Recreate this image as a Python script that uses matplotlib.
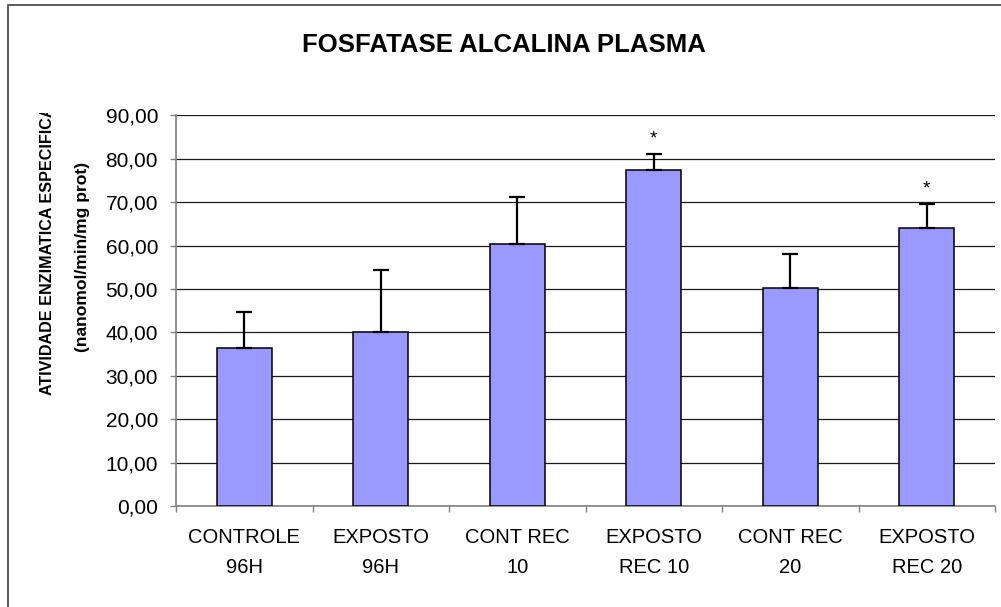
import matplotlib
matplotlib.use("Agg")
import matplotlib.pyplot as plt
from matplotlib.patches import Rectangle
from matplotlib.transforms import Bbox, TransformedBbox

plt.rcParams['font.family'] = ['Liberation Sans', 'DejaVu Sans']

# data
categories = ["CONTROLE\n96H", "EXPOSTO\n96H", "CONT REC\n10", "EXPOSTO\nREC 10", "CONT REC\n20", "EXPOSTO\nREC 20"]
means = [36.4, 40.1, 60.3, 77.5, 50.2, 64.1]
errors = [8.4, 14.3, 10.9, 3.7, 7.8, 5.5]
signif = [False, False, False, True, False, True]
yticks = [0, 10, 20, 30, 40, 50, 60, 70, 80, 90]

W, H = 1001, 607
fig = plt.figure(figsize=(W / 100, H / 100), dpi=100)
ax = fig.add_axes([176 / W, 1 - 506 / H, (995 - 176) / W, (506 - 115.3) / H])

x = [i + 0.5 for i in range(len(categories))]
ax.bar(x, means, width=0.4, color='#9999FF', edgecolor='black', linewidth=1.1, zorder=3)
ax.errorbar(x, means, yerr=[[0] * len(errors), errors], fmt='none', ecolor='black',
            elinewidth=1.6, capsize=5.5, capthick=1.6, zorder=4)

for xi, m, e, s in zip(x, means, errors, signif):
    if s:
        ax.annotate('*', (xi, m + e), xytext=(0, 7.5), textcoords='offset points',
                    ha='center', va='baseline', fontsize=13.5)

ax.set_xlim(0, len(categories))
ax.set_ylim(0, 90)
ax.set_yticks(yticks)
ax.set_yticklabels(['%d,00' % v for v in yticks], fontsize=15)
ax.set_xticks(range(len(categories) + 1))
ax.set_xticklabels([])
ax.set_xticks(x, minor=True)
ax.set_xticklabels(categories, minor=True, fontsize=14.5, linespacing=1.75)
ax.tick_params(axis='x', which='minor', length=0, pad=16)
ax.tick_params(axis='x', which='major', length=4.3, color='#808080', width=1)
ax.tick_params(axis='y', length=4, color='#808080', width=1, pad=8.9)

ax.yaxis.grid(True, color='#1a1a1a', linewidth=0.9, zorder=0)
ax.set_axisbelow(True)
for side in ['top', 'right']:
    ax.spines[side].set_visible(False)
for side in ['left', 'bottom']:
    ax.spines[side].set_color('#808080')
    ax.spines[side].set_linewidth(1.2)

fig.text(504 / W, 1 - 45 / H, 'FOSFATASE ALCALINA PLASMA', ha='center', va='center',
         fontsize=18.5, fontweight='bold')

# y label, first line runs past the top and is cut off
t1 = fig.text(48 / W, 1 - 395 / H, 'ATIVIDADE ENZIMATICA ESPECIFICA', rotation=90,
              ha='center', va='bottom', fontsize=11.6, fontweight='bold')
t1.set_clip_box(TransformedBbox(Bbox([[0, 0], [1, 1 - 113 / H]]), fig.transFigure))
t1.set_clip_on(True)
fig.text(82 / W, 1 - 257 / H, '(nanomol/min/mg prot)', rotation=90,
         ha='center', va='center', fontsize=12.6, fontweight='bold')

# outer chart frame (only left and top edges inside the picture)
fig.patches.append(Rectangle((8 / W, -0.1), 1.2, 1.1 - 5 / H, transform=fig.transFigure,
                             fill=False, edgecolor='#404040', linewidth=1.2))

fig.savefig('out.png', dpi=100)
